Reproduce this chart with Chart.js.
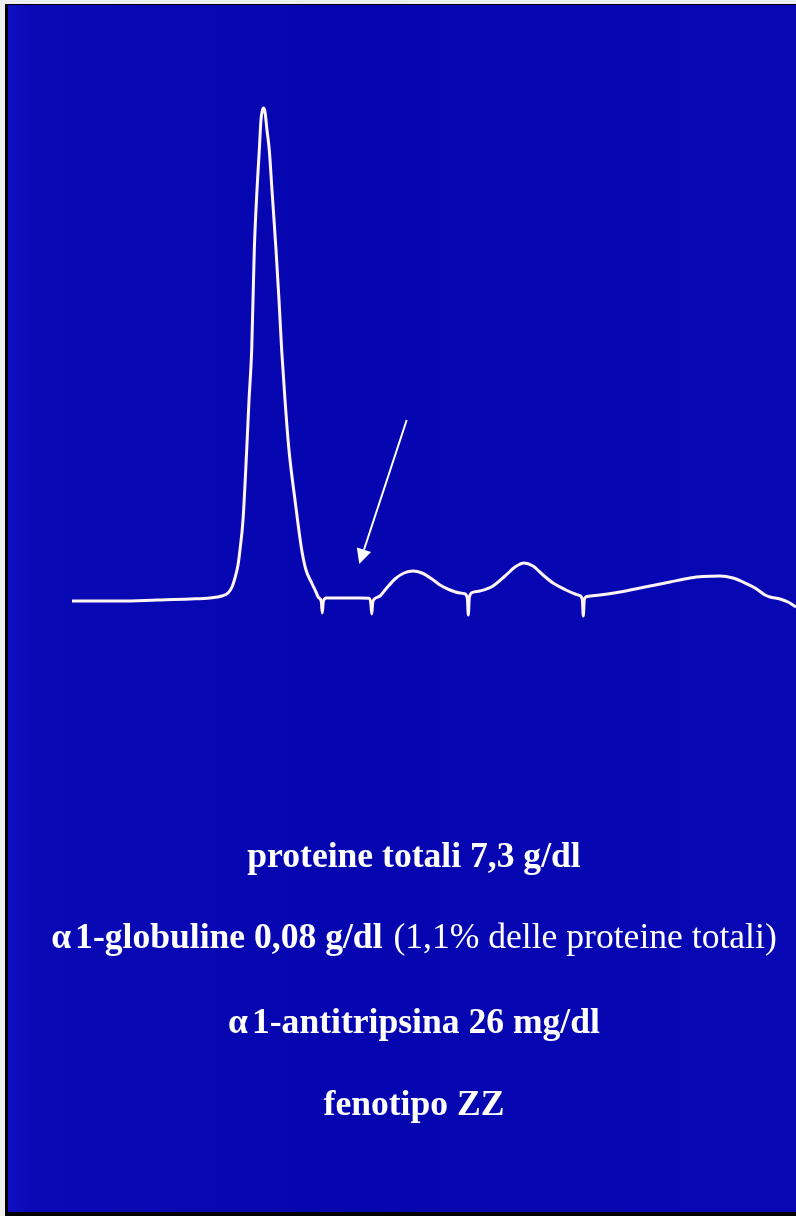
<!DOCTYPE html>
<html lang="it">
<head>
<meta charset="utf-8">
<title>Elettroforesi sieroproteica - fenotipo ZZ</title>
<script src="https://cdn.jsdelivr.net/npm/chart.js@4.4.1/dist/chart.umd.min.js"></script>
<style>
  html, body { margin: 0; padding: 0; }
  body { width: 796px; height: 1216px; background: #eeeeee; position: relative; overflow: hidden; }
  #slide {
    position: absolute; left: 5px; top: 4px; right: 0; bottom: 0;
    border-left: 3px solid #000; border-top: 1px solid #000; border-bottom: 4px solid #000;
    background: linear-gradient(90deg, #1010c2 0%, #0909b5 3%, #0606b1 40%, #0707b3 100%);
  }
  #wrap { position: absolute; left: 0; top: 0; width: 796px; height: 1216px; }
  .line {
    position: absolute; left: 0; width: 828px; text-align: center;
    font-family: "Liberation Serif", "Times New Roman", serif;
    font-size: 35.6px; line-height: 35px; color: #fff; font-weight: bold; white-space: nowrap;
  }
  .line .reg { font-weight: normal; margin-left: 2px; }
  .line .al { margin-right: 4px; }
</style>
</head>
<body>
<div id="slide"></div>
<div id="wrap"><canvas id="tracciato" width="796" height="1216"></canvas></div>

<div class="line" style="top:838px">proteine totali 7,3 g/dl</div>
<div class="line" style="top:919px"><span class="al">α</span>1-globuline 0,08 g/dl <span class="reg">(1,1% delle proteine totali)</span></div>
<div class="line" style="top:1004px"><span class="al">α</span>1-antitripsina 26 mg/dl</div>
<div class="line" style="top:1086px">fenotipo ZZ</div>

<script>
// densitometric trace: migration (0-100) vs optical density (arbitrary units)
const migration = [
  0, 6.63, 11.74, 16.30, 19.06, 20.72, 21.55, 22.10, 22.51, 22.93,
  23.20, 23.62, 24.13, 24.45, 24.82, 25.18, 25.55, 25.87, 26.10, 26.31,
  26.45, 26.66, 26.93, 27.25, 27.62, 28.18, 28.59, 28.96, 29.42, 29.97,
  30.80, 31.73, 32.32, 33.11, 33.70, 34.05, 34.43, 34.57, 34.71, 35.10,
  37.02, 39.78, 41.00, 41.26, 41.40, 41.54, 41.85, 42.54, 43.47, 44.61,
  45.86, 47.10, 48.34, 49.72, 50.83, 52.21, 53.59, 54.20, 54.60, 54.74,
  54.88, 55.30, 56.35, 58.15, 59.81, 61.19, 62.43, 63.67, 65.06, 66.44,
  68.23, 69.48, 70.10, 70.48, 70.62, 70.76, 71.15, 72.93, 75.69, 79.14,
  82.60, 85.36, 87.15, 89.50, 91.30, 92.68, 94.34, 95.72, 96.41, 97.79,
  98.90, 100
];
const density = [
  0, 0, 0.2, 0.4, 0.6, 1.0, 1.6, 2.8, 4.6, 7.2,
  10.2, 16.2, 30.2, 40.2, 50.2, 70.2, 82.2, 90.2, 96.2, 98.2,
  98.6, 97.8, 94.2, 90.2, 82.2, 70.2, 60.2, 50.2, 40.2, 30.2,
  20.2, 10.2, 6.2, 3.6, 1.8, 0.7, -0.1, -2.4, -0.1, 0.6,
  0.6, 0.6, 0.55, -0.3, -2.6, -0.3, 0.5, 1.0, 2.6, 4.4,
  5.6, 6.0, 5.6, 4.4, 3.2, 2.2, 1.6, 1.45, 0.6, -2.8,
  0.7, 1.7, 2.0, 3.0, 5.0, 6.8, 7.6, 7.0, 5.2, 3.6,
  2.2, 1.4, 1.1, 0.3, -3.0, 0.3, 0.9, 1.2, 1.8, 2.8,
  3.8, 4.6, 4.9, 5.0, 4.6, 3.8, 2.6, 1.2, 0.8, 0.4,
  -0.2, -1.2
];

// arrow pointing at the missing alpha-1 band
const arrowFrom = { x: 46.23, y: 36.2 };
const arrowTo = { x: 39.68, y: 7.4 };

const points = migration.map((m, i) => ({ x: m, y: density[i] }));

const arrowPlugin = {
  id: "arrow",
  afterDatasetsDraw(chart) {
    const { ctx, scales: { x, y } } = chart;
    const x1 = x.getPixelForValue(arrowFrom.x), y1 = y.getPixelForValue(arrowFrom.y);
    const x2 = x.getPixelForValue(arrowTo.x), y2 = y.getPixelForValue(arrowTo.y);
    const ang = Math.atan2(y2 - y1, x2 - x1);
    const headLen = 15, headW = 7.5;
    const bx = x2 - headLen * Math.cos(ang), by = y2 - headLen * Math.sin(ang);
    ctx.save();
    ctx.strokeStyle = "#ffffff";
    ctx.fillStyle = "#ffffff";
    ctx.lineWidth = 2;
    ctx.beginPath();
    ctx.moveTo(x1, y1);
    ctx.lineTo(bx, by);
    ctx.stroke();
    ctx.beginPath();
    ctx.moveTo(x2, y2);
    ctx.lineTo(bx + headW * Math.sin(ang), by - headW * Math.cos(ang));
    ctx.lineTo(bx - headW * Math.sin(ang), by + headW * Math.cos(ang));
    ctx.closePath();
    ctx.fill();
    ctx.restore();
  }
};

new Chart(document.getElementById("tracciato"), {
  type: "scatter",
  data: {
    datasets: [{
      label: "tracciato elettroforetico",
      data: points,
      showLine: true,
      borderColor: "#fff4f4",
      borderWidth: 3,
      pointRadius: 0,
      cubicInterpolationMode: "monotone",
      clip: false
    }]
  },
  options: {
    responsive: false,
    animation: false,
    layout: { padding: { left: 72, right: 0, top: 101, bottom: 590 } },
    scales: {
      x: { type: "linear", min: 0, max: 100, display: false },
      y: { type: "linear", min: -5, max: 100, display: false }
    },
    plugins: {
      legend: { display: false },
      tooltip: { enabled: false }
    }
  },
  plugins: [arrowPlugin]
});
</script>
</body>
</html>
